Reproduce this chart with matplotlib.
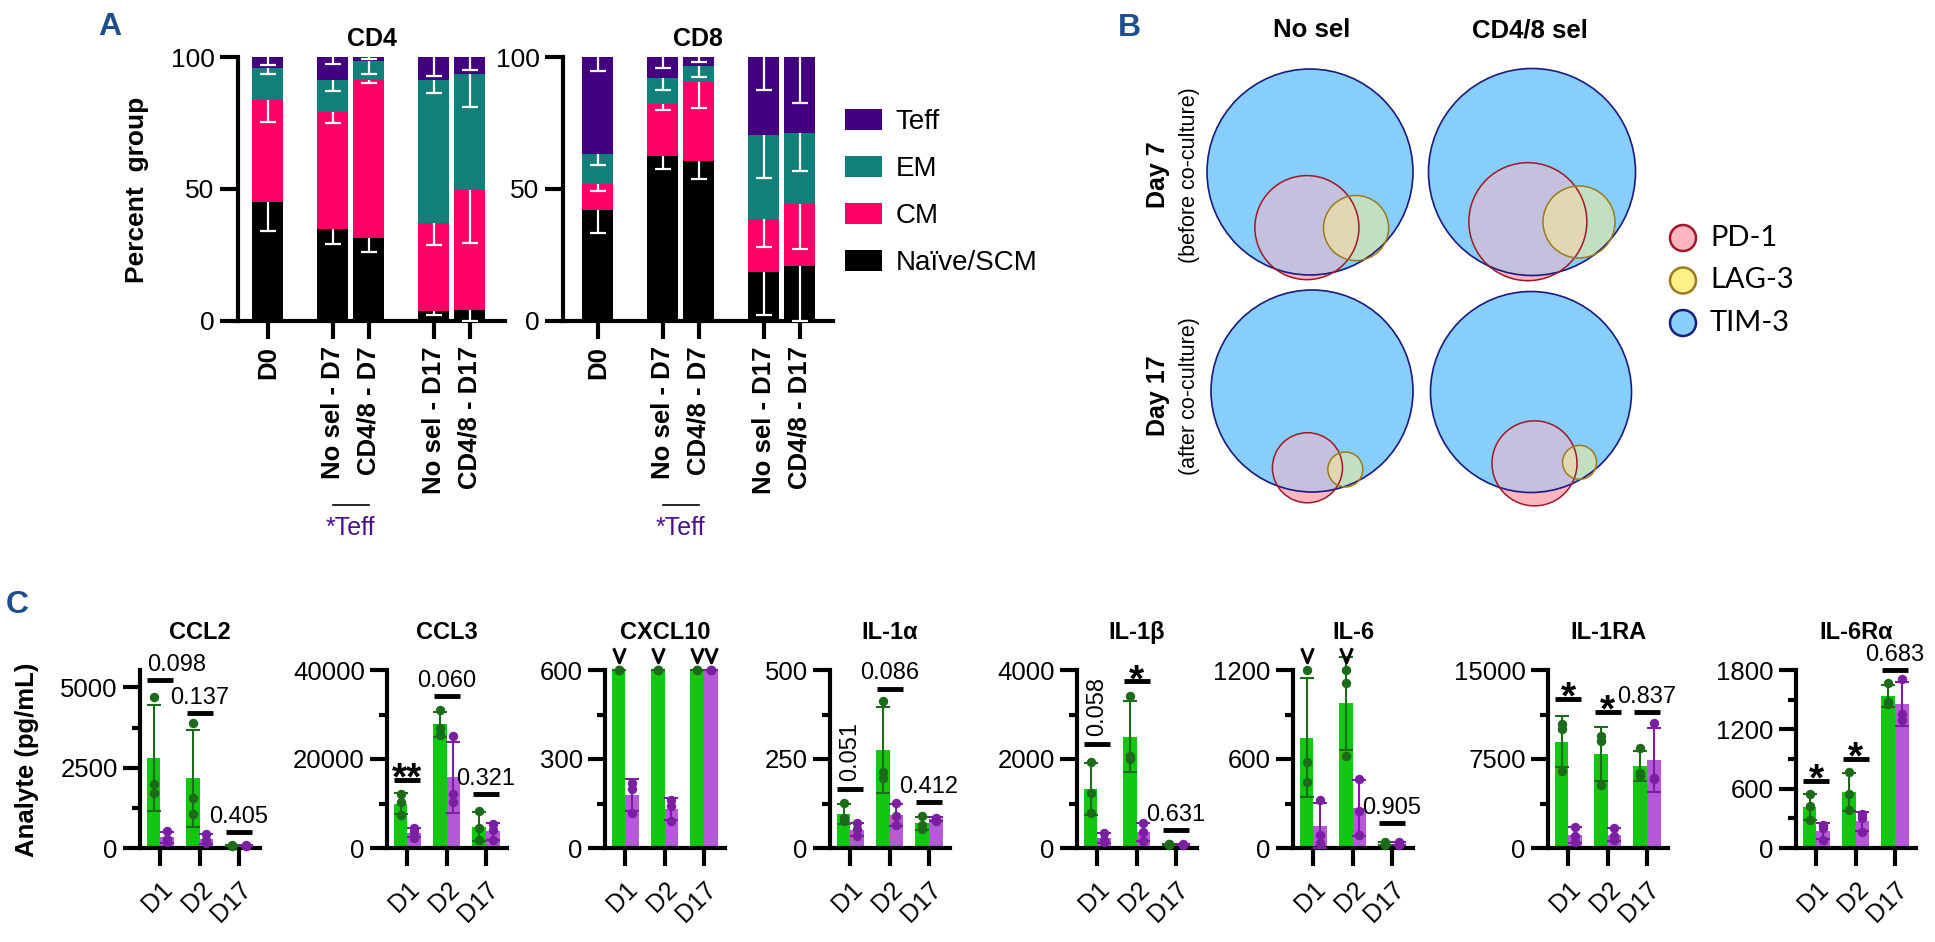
import numpy as np
import matplotlib
matplotlib.use("Agg")
import matplotlib.pyplot as plt
from matplotlib.patches import Circle
from matplotlib.path import Path
from matplotlib.transforms import ScaledTranslation
from matplotlib.ticker import MultipleLocator, FuncFormatter

plt.rcParams["font.family"] = ["Liberation Sans", "DejaVu Sans"]

# ---------------- A: T cell subsets (% of group), mean and SD (drawn downward)
groups_a = ["D0", "No sel - D7", "CD4/8 - D7", "No sel - D17", "CD4/8 - D17"]
subsets = ["Naïve/SCM", "CM", "EM", "Teff"]

cd4_naive = [45.0, 34.7, 31.4, 3.8, 4.2]
cd4_cm = [38.9, 44.5, 60.0, 33.4, 45.4]
cd4_em = [12.1, 12.2, 7.1, 54.2, 44.1]
cd4_teff = [4.0, 8.6, 1.5, 8.6, 6.3]
cd4_naive_sd = [10.8, 5.7, 5.4, 1.5, 4.1]
cd4_cm_sd = [8.5, 4.2, 1.1, 8.4, 20.0]
cd4_em_sd = [2.6, 4.3, 4.8, 5.0, 12.7]
cd4_teff_sd = [3.2, 2.5, 0.8, 7.3, 5.0]

cd8_naive = [42.2, 62.4, 60.7, 18.5, 21.0]
cd8_cm = [9.8, 19.8, 29.8, 20.3, 23.5]
cd8_em = [11.2, 9.9, 6.2, 31.6, 26.9]
cd8_teff = [36.8, 7.9, 3.3, 29.6, 28.6]
cd8_naive_sd = [9.0, 4.8, 6.9, 16.1, 20.9]
cd8_cm_sd = [2.7, 2.2, 10.0, 10.7, 17.1]
cd8_em_sd = [4.2, 4.5, 4.3, 16.4, 14.5]
cd8_teff_sd = [5.4, 4.0, 2.0, 12.4, 17.4]

# ---------------- B: Venn of checkpoint markers (sizes relative to TIM-3 circle)
venn_cols = ["No sel", "CD4/8 sel"]
venn_rows = ["Day 7", "Day 17"]
venn_sub = ["(before co-culture)", "(after co-culture)"]
markers_b = ["PD-1", "LAG-3", "TIM-3"]
pd1_r = [0.505, 0.57, 0.347, 0.423]
pd1_dx = [-0.03, -0.04, -0.045, 0.035]
pd1_dy = [0.54, 0.48, 0.76, 0.71]
lag3_r = [0.316, 0.348, 0.173, 0.169]
lag3_dx = [0.447, 0.454, 0.33, 0.483]
lag3_dy = [0.544, 0.483, 0.777, 0.70]

# ---------------- C: analytes (pg/mL), 3 donors, No sel vs CD4/8 sel
days = ["D1", "D2", "D17"]
ccl2_nosel = [[4710, 2000, 1710], [3880, 1550, 1070], [100, 70, 60]]
ccl2_cd48 = [[520, 280, 190], [450, 260, 150], [90, 70, 50]]
ccl3_nosel = [[12100, 10400, 7400], [30900, 27000, 25500], [8300, 4400, 1750]]
ccl3_cd48 = [[4400, 3700, 2300], [25100, 12100, 10400], [5500, 4000, 1750]]
cxcl10_nosel = [[600, 600, 600], [600, 600, 600], [600, 600, 600]]
cxcl10_cd48 = [[220, 200, 118], [163, 143, 90], [600, 600, 600]]
il1a_nosel = [[127, 85, 75], [414, 213, 197], [89, 66, 52]]
il1a_cd48 = [[70, 52, 33], [127, 89, 66], [85, 82, 75]]
il1b_nosel = [[1940, 1226, 790], [3421, 2068, 2008], [100, 80, 60]]
il1b_cd48 = [[338, 188, 128], [560, 350, 150], [90, 70, 60]]
il6_nosel = [[1200, 582, 446], [1200, 1109, 618], [40, 30, 20]]
il6_cd48 = [[321, 91, 34], [464, 249, 91], [40, 30, 20]]
il1ra_nosel = [[10430, 10010, 6480], [9450, 9020, 5270], [8400, 6300, 6100]]
il1ra_cd48 = [[1800, 1000, 500], [1690, 1040, 650], [10570, 5920, 5780]]
il6ra_nosel = [[543, 425, 282], [764, 543, 384], [1664, 1478, 1460]]
il6ra_cd48 = [[228, 204, 85], [340, 306, 160], [1709, 1359, 1291]]

# y axis: (top, major step, minor step)
ccl2_axis = (5540, 2500, 1250)
ccl3_axis = (40000, 20000, 10000)
cxcl10_axis = (600, 300, 150)
il1a_axis = (500, 250, 125)
il1b_axis = (4000, 2000, 1000)
il6_axis = (1200, 600, 300)
il1ra_axis = (15000, 7500, 3750)
il6ra_axis = (1800, 600, 300)

# comparisons: (day, bar height, label, vertical text)
ccl2_sig = [(0, 5240, "0.098", False), (1, 4200, "0.137", False), (2, 500, "0.405", False)]
ccl3_sig = [(0, 15320, "**", False), (1, 34190, "0.060", False), (2, 12075, "0.321", False)]
cxcl10_sig = []
il1a_sig = [(0, 166, "0.051", True), (1, 448, "0.086", False), (2, 130, "0.412", False)]
il1b_sig = [(0, 2331, "0.058", True), (1, 3744, "*", False), (2, 414, "0.631", False)]
il6_sig = [(2, 170, "0.905", False)]
il1ra_sig = [(0, 12546, "*", False), (1, 11475, "*", False), (2, 11475, "0.837", False)]
il6ra_sig = [(0, 679, "*", False), (1, 900, "*", False), (2, 1800, "0.683", False)]

# values above the upper limit of detection: (day, 0 = No sel / 1 = CD4/8)
cxcl10_over = [(0, 0), (1, 0), (2, 0), (2, 1)]
il6_over = [(0, 0), (1, 0)]

analytes = [
    ("CCL2", ccl2_nosel, ccl2_cd48, ccl2_axis, ccl2_sig, []),
    ("CCL3", ccl3_nosel, ccl3_cd48, ccl3_axis, ccl3_sig, []),
    ("CXCL10", cxcl10_nosel, cxcl10_cd48, cxcl10_axis, cxcl10_sig, cxcl10_over),
    ("IL-1α", il1a_nosel, il1a_cd48, il1a_axis, il1a_sig, []),
    ("IL-1β", il1b_nosel, il1b_cd48, il1b_axis, il1b_sig, []),
    ("IL-6", il6_nosel, il6_cd48, il6_axis, il6_sig, il6_over),
    ("IL-1RA", il1ra_nosel, il1ra_cd48, il1ra_axis, il1ra_sig, []),
    ("IL-6Rα", il6ra_nosel, il6ra_cd48, il6ra_axis, il6ra_sig, []),
]

# ---------------- styles / layout
W, H = 1935, 942
subset_colors = ["#000000", "#fe0066", "#10807a", "#42007e"]
letter_color = "#1d4d8c"
green, dkgreen = "#10c810", "#1b6b1b"
purple, dkpurple = "#b45ad7", "#7b1fa2"
# open chevron used as the "above range" mark
chevron = Path([(-0.8, 1.0), (0.0, -1.0), (0.8, 1.0)], [Path.MOVETO, Path.LINETO, Path.LINETO])


def rect(l, t, r, b):
    return [l / W, 1 - b / H, (r - l) / W, (b - t) / H]


fig = plt.figure(figsize=(W / 100, H / 100), dpi=100)

# overlay in pixel units for free text and the Venn diagrams
ov = fig.add_axes([0, 0, 1, 1])
ov.set_xlim(0, W)
ov.set_ylim(H, 0)
ov.axis("off")

ov.text(110, 27, "A", fontsize=23, fontweight="bold", color=letter_color, ha="center", va="center")
ov.text(1129, 28, "B", fontsize=23, fontweight="bold", color=letter_color, ha="center", va="center")
ov.text(17, 605, "C", fontsize=23, fontweight="bold", color=letter_color, ha="center", va="center")

# ---------------- panel A
x_a = np.array([0, 1.8, 2.8, 4.6, 5.6])
bar_w_a = 0.86


def stacked_panel(ax, title, layers, sds, xlim):
    bottom = np.zeros(len(groups_a))
    handles = []
    for vals, sd, col, lab in zip(layers, sds, subset_colors, subsets):
        vals = np.array(vals)
        h = ax.bar(x_a, vals, bar_w_a, bottom=bottom, color=col, label=lab, zorder=2)
        handles.append(h)
        top = bottom + vals
        low = top - np.array(sd)
        ax.vlines(x_a, low, top, color="white", lw=1.6, zorder=3)
        ax.plot(x_a, low, ls="none", marker="_", ms=12, mew=1.6, color="white", zorder=3)
        bottom = top
    ax.set_xlim(*xlim)
    ax.set_ylim(0, 100)
    ax.set_yticks([0, 50, 100])
    ax.set_xticks(x_a)
    ax.set_xticklabels(groups_a, rotation=90, fontweight="bold", fontsize=18.5)
    ax.tick_params(axis="y", length=13, width=3, labelsize=19, pad=4)
    ax.tick_params(axis="x", length=13, width=3, pad=5)
    for s in ["top", "right"]:
        ax.spines[s].set_visible(False)
    for s in ["left", "bottom"]:
        ax.spines[s].set_linewidth(3)
    ax.set_facecolor("none")
    ax.set_title(title, fontsize=18, fontweight="bold", pad=8)
    # Teff comparison bracket under the D7 labels
    tr = ax.get_xaxis_transform()
    ax.plot([x_a[1], x_a[2]], [-0.697, -0.697], color="black", lw=1.2, transform=tr, clip_on=False)
    ax.text((x_a[1] + x_a[2]) / 2, -0.785, "*Teff", transform=tr, ha="center", va="center",
            fontsize=18, color="#4b0f8c")
    return handles


ax4 = fig.add_axes(rect(238, 57, 505, 321))
stacked_panel(ax4, "CD4", [cd4_naive, cd4_cm, cd4_em, cd4_teff],
              [cd4_naive_sd, cd4_cm_sd, cd4_em_sd, cd4_teff_sd], (-0.83, 6.58))
ax8 = fig.add_axes(rect(563, 57, 833, 321))
hands = stacked_panel(ax8, "CD8", [cd8_naive, cd8_cm, cd8_em, cd8_teff],
                      [cd8_naive_sd, cd8_cm_sd, cd8_em_sd, cd8_teff_sd], (-0.97, 6.53))
ov.text(137, 190, "Percent  group", rotation=90, ha="center", va="center", fontsize=19, fontweight="bold")

fig.legend(hands[::-1], subsets[::-1], loc="upper left", bbox_to_anchor=(845 / W, 1 - 109 / H),
           frameon=False, fontsize=20, handlelength=1.33, handleheight=0.8, handletextpad=0.5,
           labelspacing=0.74, borderpad=0, borderaxespad=0)

# ---------------- panel B
venn_center = [(1310, 172), (1532, 172), (1312, 391), (1531, 392)]
venn_R = [103, 103.5, 101, 100.5]
tim3_fill, tim3_edge = "#87cefa", "#1a1a80"
pd1_fill, pd1_edge = "#ffb6c1", "#a01828"
lag3_fill, lag3_edge = "#fff08a", "#9c7a1e"

for k in range(4):
    cx, cy = venn_center[k]
    R = venn_R[k]
    p = (cx + pd1_dx[k] * R, cy + pd1_dy[k] * R, pd1_r[k] * R)
    q = (cx + lag3_dx[k] * R, cy + lag3_dy[k] * R, lag3_r[k] * R)
    ov.add_patch(Circle(p[:2], p[2], fc=pd1_fill, ec="none", zorder=1))
    ov.add_patch(Circle(q[:2], q[2], fc=lag3_fill, ec="none", zorder=1))
    ov.add_patch(Circle((cx, cy), R, fc=tim3_fill, ec="none", zorder=2))
    ov.add_patch(Circle(p[:2], p[2], fc=pd1_fill, ec="none", alpha=0.5, zorder=3))
    ov.add_patch(Circle(q[:2], q[2], fc=lag3_fill, ec="none", alpha=0.5, zorder=4))
    ov.add_patch(Circle((cx, cy), R, fc="none", ec=tim3_edge, lw=1.2, zorder=5))
    ov.add_patch(Circle(p[:2], p[2], fc="none", ec=pd1_edge, lw=1.1, zorder=5))
    ov.add_patch(Circle(q[:2], q[2], fc="none", ec=lag3_edge, lw=1.1, zorder=5))

for t, xc in zip(venn_cols, [1312, 1530]):
    ov.text(xc, 30, t, ha="center", va="center", fontsize=18.5, fontweight="bold")
for t, sub, yc in zip(venn_rows, venn_sub, [175, 396]):
    ov.text(1158, yc, t, rotation=90, ha="center", va="center", fontsize=18, fontweight="bold")
    ov.text(1190, yc, sub, rotation=90, ha="center", va="center", fontsize=15.5)

leg_fill = [pd1_fill, lag3_fill, tim3_fill]
leg_edge = [pd1_edge, lag3_edge, tim3_edge]
for i, (lab, fc, ec) in enumerate(zip(markers_b, leg_fill, leg_edge)):
    yc = 238 + i * 42.5
    ov.add_patch(Circle((1683, yc), 13, fc=fc, ec=ec, lw=1.8, zorder=5))
    ov.text(1710, yc, lab, ha="left", va="center", fontsize=21, family=["Lato", "DejaVu Sans"])

# ---------------- panel C
c_left = [140, 387, 605, 830, 1077, 1293, 1548, 1796]
xs = np.arange(3)
bw = 0.35

for i, (name, g, p, axis, sig, over) in enumerate(analytes):
    top, major, minor = axis
    ax = fig.add_axes(rect(c_left[i], 670, c_left[i] + 120, 848))
    ax.set_facecolor("none")
    for vals, off, fc, dc in [(g, -bw / 2, green, dkgreen), (p, bw / 2, purple, dkpurple)]:
        means = [np.mean(v) for v in vals]
        sds = [np.std(v, ddof=1) for v in vals]
        ax.bar(xs + off, means, bw, color=fc, zorder=2)
        ax.errorbar(xs + off, means, yerr=sds, fmt="none", ecolor=dc, elinewidth=1.5,
                    capsize=5, capthick=1.5, zorder=3, clip_on=False)
        for j, v in enumerate(vals):
            ax.scatter([xs[j] + off] * len(v), v, s=46, color=dc, zorder=4, clip_on=False, linewidths=0)
    for day, yv, txt, vertical in sig:
        xc = xs[day]
        ax.plot([xc - 0.33, xc + 0.33], [yv, yv], color="black", lw=3.5, solid_capstyle="butt",
                clip_on=False, zorder=5)
        if txt.startswith("*"):
            ax.annotate(txt, (xc, yv), xytext=(0, -7), textcoords="offset points", ha="center",
                        va="baseline", fontsize=28, fontweight="bold", annotation_clip=False)
        elif vertical:
            ax.annotate(txt, (xc, yv), xytext=(0, 6), textcoords="offset points", ha="center",
                        va="bottom", rotation=90, fontsize=17, annotation_clip=False)
        elif day == 0:
            # first group: keep the label clear of the y axis
            ax.annotate(txt, (xc - 0.33, yv), xytext=(0, 6.5), textcoords="offset points", ha="left",
                        va="baseline", fontsize=17, annotation_clip=False)
        else:
            ax.annotate(txt, (xc, yv), xytext=(0, 6.5), textcoords="offset points", ha="center",
                        va="baseline", fontsize=17, annotation_clip=False)
    # above-range marks sit a fixed distance over the top of the axis
    lift = ax.transData + ScaledTranslation(0, 11 / 72, fig.dpi_scale_trans)
    for day, ser in over:
        xo = xs[day] + (-bw / 2 if ser == 0 else bw / 2)
        ax.plot([xo], [top], ls="none", marker=chevron, ms=10.5, mew=2.2, mfc="none", mec="black",
                transform=lift, clip_on=False, zorder=6)
    ax.set_xlim(-0.52, 2.54)
    ax.set_ylim(0, top)
    ax.yaxis.set_major_locator(MultipleLocator(major))
    ax.yaxis.set_minor_locator(MultipleLocator(minor))
    ax.yaxis.set_major_formatter(FuncFormatter(lambda v, pos: f"{v:g}"))
    ax.set_xticks(xs)
    ax.set_xticklabels(days, rotation=45, ha="right", rotation_mode="anchor", fontsize=18)
    ax.tick_params(axis="y", which="major", length=12, width=3, labelsize=18.5, pad=4)
    ax.tick_params(axis="y", which="minor", length=6, width=3)
    ax.tick_params(axis="x", length=13, width=3, pad=8)
    for s in ["top", "right"]:
        ax.spines[s].set_visible(False)
    for s in ["left", "bottom"]:
        ax.spines[s].set_linewidth(3)
    ax.set_title(name, fontsize=17, fontweight="bold", pad=22)

ov.text(27, 760, "Analyte (pg/mL)", rotation=90, ha="center", va="center", fontsize=18.5, fontweight="bold")

fig.savefig("out.png", dpi=100)
